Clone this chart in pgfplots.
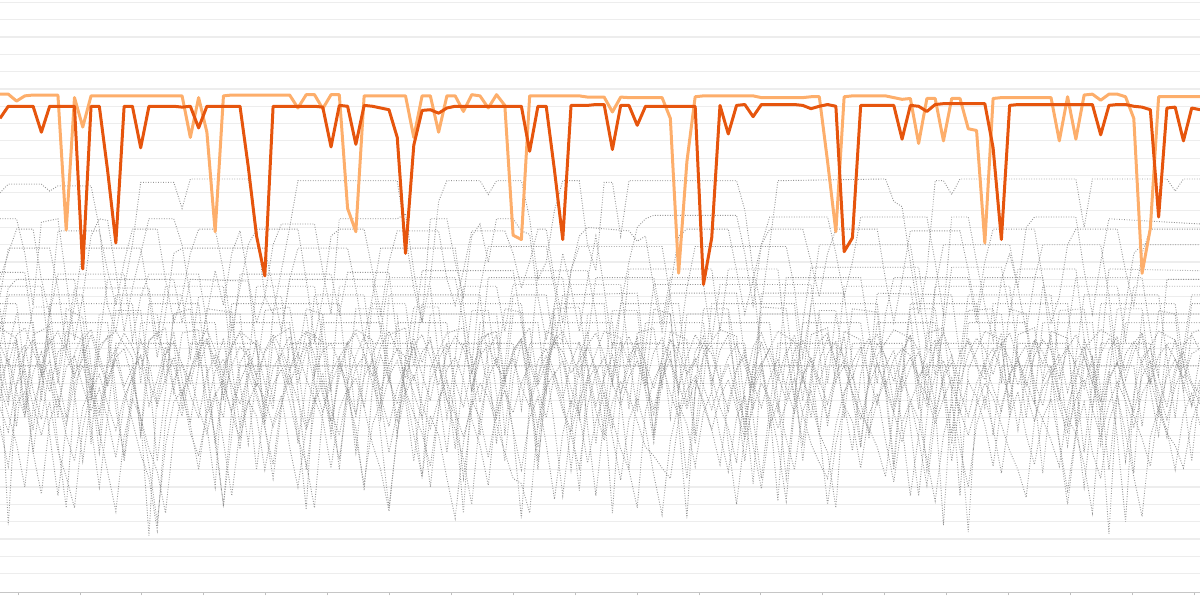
\documentclass[border=0pt]{standalone}
\usepackage{pgfplots}
\usepackage{pgfplotstable}
\pgfplotsset{compat=1.18}
\definecolor{darkor}{HTML}{E6550D}
\definecolor{lightor}{HTML}{FDAE6B}
\definecolor{graycol}{HTML}{959595}
\definecolor{gridcol}{HTML}{EDEDED}
\pgfplotstableread{
i z1 z2 z3 z4 z5 z6
0 12.5 11.5 10.8 9.6 11.2 13.2
1 2.8 9.8 9.2 8.2 12.4 12.1
2 11.0 12.4 7.5 10.9 10.5 13.8
3 12.8 13.2 5.0 11.8 9.1 14.2
4 13.5 10.6 9.6 9.7 11.6 12.9
5 12.0 8.9 11.4 8.0 12.8 11.6
6 10.5 11.8 12.3 9.9 11.0 13.3
7 12.8 7.5 10.1 7.1 9.6 14.0
8 13.2 3.8 8.6 5.6 11.9 12.7
9 11.5 10.2 11.0 3.8 12.6 11.3
10 12.4 12.9 12.0 8.4 10.8 13.5
11 13.8 11.3 10.4 10.6 9.4 14.1
12 12.2 9.4 9.1 11.5 10.7 12.6
13 10.8 12.1 11.3 9.8 8.9 11.0
14 12.5 13.0 12.4 8.3 6.7 12.8
15 13.0 10.8 10.6 10.2 9.8 13.9
16 11.2 11.9 8.8 11.3 11.5 13.1
17 9.0 12.6 6.9 9.0 12.6 11.8
18 2.2 9.7 5.5 7.2 11.1 13.4
19 10.5 11.2 2.5 5.9 9.7 14.0
20 12.7 13.1 8.9 3.5 11.3 12.5
21 13.4 12.0 11.2 8.0 12.5 10.6
22 12.1 10.3 12.1 10.4 10.4 9.1
23 11.0 11.7 10.3 11.6 8.6 11.7
24 12.9 12.8 9.0 9.5 6.0 13.3
25 13.6 10.1 11.5 8.1 9.5 14.1
26 12.3 8.0 12.6 10.3 11.7 12.9
27 10.2 3.9 10.8 11.2 12.4 11.5
28 12.0 9.5 9.4 9.2 10.9 13.2
29 13.1 12.2 11.1 7.8 9.8 13.9
30 12.6 13.0 12.2 9.9 11.5 12.4
31 11.4 11.4 10.5 11.0 10.2 10.8
32 12.8 9.6 8.7 10.1 8.4 12.9
33 13.5 11.9 10.9 8.5 6.3 13.8
34 12.0 12.7 11.8 9.7 9.9 13.0
35 10.8 10.9 9.9 11.4 11.8 11.7
36 8.5 12.3 7.8 10.0 12.7 13.4
37 3.7 13.2 6.4 8.3 11.3 14.0
38 11.5 11.0 3.8 9.8 10.0 12.6
39 12.9 9.3 9.3 11.1 11.6 10.3
40 13.3 11.6 11.0 9.4 8.8 8.8
41 12.2 12.5 12.1 8.0 6.6 11.4
42 11.0 10.2 10.6 10.5 10.1 13.2
43 12.6 8.4 9.2 11.3 11.9 13.9
44 13.7 4.8 11.4 9.6 12.6 12.7
45 12.4 10.8 12.3 7.5 11.0 11.4
46 10.6 12.6 10.2 6.0 9.5 13.1
47 12.1 11.2 8.5 3.6 11.4 14.0
48 13.0 9.8 10.7 8.2 12.3 12.9
49 12.5 12.0 11.9 10.4 10.6 11.3
50 11.2 13.1 10.4 11.5 9.2 13.2
51 12.8 11.5 9.0 9.8 8.1 13.8
52 13.4 10.0 11.2 8.4 6.2 12.5
53 11.9 12.4 12.2 10.1 9.6 10.9
54 10.0 13.3 10.1 11.2 11.8 12.8
55 9.2 11.1 8.3 9.3 12.5 13.7
56 3.5 9.6 6.6 7.9 11.2 13.0
57 10.8 11.8 4.0 9.7 8.9 11.6
58 12.6 12.9 9.1 11.0 7.4 13.3
59 13.2 10.7 11.3 10.2 5.1 13.9
60 12.0 9.0 12.4 8.6 9.8 10.4
61 11.3 11.4 10.5 7.0 11.7 6.5
62 12.9 8.2 9.3 5.5 12.4 11.3
63 13.6 3.2 11.0 5.2 10.8 13.4
64 12.5 9.9 12.1 3.5 9.6 10.2
65 10.9 12.3 10.6 8.7 11.5 7.3
66 12.2 13.0 9.0 10.8 12.6 11.6
67 13.4 11.6 11.5 11.6 11.1 13.5
68 12.8 10.1 12.3 9.6 9.4 14.0
69 11.6 12.2 10.7 8.2 8.0 12.8
70 12.3 13.4 9.2 10.0 6.1 11.4
71 13.1 11.9 11.1 11.3 9.7 13.2
72 11.8 9.7 12.0 9.4 11.6 13.9
73 9.6 11.3 10.3 7.7 12.5 12.6
74 3.5 12.6 8.9 9.9 11.0 11.1
75 10.4 10.4 7.2 11.1 9.7 12.9
76 12.6 12.0 6.0 10.3 11.4 13.7
77 13.3 13.1 3.8 8.8 12.3 12.4
78 12.1 11.2 9.4 7.3 10.6 10.9
79 10.7 9.5 11.2 6.8 9.2 12.8
80 12.4 11.7 12.2 6.1 11.3 13.6
81 13.5 12.8 10.4 5.5 12.4 12.2
82 12.9 8.7 9.1 8.9 10.9 10.7
83 11.5 3.2 11.6 10.6 9.5 12.5
84 12.2 10.6 12.4 11.4 11.2 13.8
85 13.3 12.5 10.8 9.7 10.0 13.0
86 12.7 13.2 9.5 8.3 8.3 11.4
87 11.1 11.0 11.0 10.2 6.3 9.6
88 12.5 9.4 12.1 11.2 9.9 8.4
89 13.2 11.8 10.2 9.5 11.8 6.4
90 12.0 12.9 8.8 7.8 12.6 10.8
91 10.5 10.8 11.3 9.6 11.0 13.1
92 11.8 12.1 12.2 11.0 9.6 13.9
93 9.5 13.0 9.7 10.1 11.3 12.6
94 4.2 11.5 7.4 8.4 12.4 11.2
95 11.0 10.0 4.2 9.8 10.7 12.9
96 12.9 12.4 9.6 11.3 9.3 10.3
97 13.5 11.3 11.4 9.2 11.5 7.5
98 12.3 9.9 12.3 7.5 12.5 11.6
99 11.0 8.1 10.5 6.4 11.2 13.4
100 12.7 7.0 9.0 5.5 9.8 13.9
101 13.4 3.8 11.2 8.6 11.6 12.2
102 12.5 10.3 12.0 10.5 12.3 9.8
103 11.3 12.2 10.4 11.4 10.5 7.1
104 12.8 13.1 8.9 9.8 9.2 11.5
105 13.6 11.4 10.9 8.1 8.4 13.3
106 12.2 9.8 12.1 10.0 7.3 13.8
107 10.8 12.0 10.6 11.2 5.6 12.5
108 12.4 12.9 9.3 9.3 9.5 11.1
109 13.0 10.6 11.4 7.6 11.6 12.8
110 12.6 11.9 10.0 9.9 12.5 13.7
111 11.4 12.8 7.8 11.1 11.0 12.9
112 12.1 10.9 5.1 10.3 9.7 11.4
113 9.8 9.2 9.0 8.7 11.4 13.1
114 2.8 11.5 11.3 10.1 12.3 13.9
115 10.6 12.6 12.2 11.3 10.8 12.6
116 12.8 8.5 10.5 9.4 9.3 11.0
117 13.4 2.4 9.1 8.0 11.1 12.7
118 12.0 10.1 11.0 9.7 10.2 13.6
119 11.2 12.3 12.1 11.0 8.6 13.0
120 12.6 13.0 10.7 10.2 6.2 11.5
121 13.3 11.6 9.4 8.6 9.7 13.2
122 12.4 10.2 11.5 7.1 11.5 13.9
123 10.9 12.4 12.3 6.0 12.4 12.4
124 12.2 13.2 10.4 4.4 11.1 10.8
125 13.5 11.1 8.8 8.8 9.8 12.6
126 12.8 9.7 11.1 10.7 8.9 13.5
127 11.5 11.8 12.0 11.5 7.7 12.9
128 12.3 12.7 10.3 9.6 6.2 11.3
129 13.1 10.5 9.0 8.2 9.6 13.0
130 12.0 12.2 8.1 10.1 11.4 13.8
131 10.7 13.1 6.3 11.2 12.5 12.5
132 12.5 11.4 3.5 9.5 11.0 11.0
133 9.0 9.9 9.2 7.9 9.5 12.7
134 2.3 11.7 11.2 9.8 11.3 13.6
135 10.5 7.9 12.2 11.1 12.2 13.1
136 12.7 3.0 10.6 10.0 10.7 11.7
137 13.4 10.4 9.3 8.5 9.1 13.3
138 12.1 12.5 11.4 10.4 7.8 13.9
139 11.0 13.0 12.3 11.3 6.2 12.2
140 12.6 11.3 10.5 9.4 9.5 10.1
141 13.2 9.6 8.9 8.1 11.4 7.9
142 12.4 11.9 10.8 7.4 12.4 11.5
143 11.3 12.8 12.0 6.1 11.0 13.2
144 12.7 11.0 10.9 8.8 9.7 13.8
145 13.0 10.4 9.8 10.2 11.2 12.9
}\zig
\begin{document}
\begin{tikzpicture}
\begin{axis}[
  width=600pt, height=296.15pt, scale only axis,
  xmin=0, xmax=145, ymin=-1.08, ymax=33.14,
  axis x line*=bottom, axis y line*=left,
  x axis line style={color=gray!45, line width=0.5pt},
  y axis line style={draw=none},
  ytick={0,1,...,33}, yticklabels={}, ytick style={draw=none},
  yticklabel style={inner sep=0pt, outer sep=0pt},
  ymajorgrids, major grid style={color=gridcol, line width=0.6pt},
  xtick={2.18,9.66,17.14,24.62,32.10,39.58,47.06,54.54,62.02,69.50,76.98,84.46,91.94,99.42,106.90,114.38,121.86,129.34,136.82,144.30},
  xticklabels={}, xtick style={color=gray!50, line width=0.4pt},
  tick align=outside, major tick length=1.5pt,
  gl/.style={color=graycol, line width=0.45pt, dash pattern=on 0.45pt off 0.8pt, forget plot},
]
\addplot[gl] table[x=i,y=z1]{\zig};
\addplot[gl] table[x=i,y=z2]{\zig};
\addplot[gl] table[x=i,y=z3]{\zig};
\addplot[gl] table[x=i,y=z4]{\zig};
\addplot[gl] table[x=i,y=z5]{\zig};
\addplot[gl] table[x=i,y=z6]{\zig};
% Z7
\addplot[gl] coordinates {(0,14.2)(2,13.6)(3,9.5)(4,13.8)(6,14.3)(7,11.0)(8,14.0)(10,13.5)(11,7.5)(12,13.2)(14,14.0)(16,12.5)(17,8.0)(18,13.5)(20,14.2)(21,10.5)(22,13.9)(24,14.1)(25,8.5)(26,5.0)(27,12.0)(29,14.0)(31,13.2)(32,9.0)(33,13.6)(35,14.2)(36,11.5)(37,14.0)(39,13.4)(40,7.8)(41,12.5)(43,14.1)(45,13.5)(46,10.0)(47,13.8)(49,14.2)(50,9.5)(51,5.5)(52,11.8)(54,13.9)(56,14.2)(57,10.5)(58,13.6)(60,14.0)(61,8.0)(62,12.9)(64,14.2)(65,11.0)(66,14.0)(68,13.5)(69,9.0)(70,4.8)(71,11.5)(73,14.0)(75,13.6)(76,9.5)(77,13.9)(79,14.2)(80,10.8)(81,14.0)(83,13.5)(84,8.0)(85,12.8)(87,14.1)(89,13.7)(90,9.8)(91,5.2)(92,12.0)(94,14.0)(96,13.4)(97,10.0)(98,13.8)(100,14.2)(101,11.0)(102,14.0)(104,13.5)(105,7.8)(106,12.6)(108,14.1)(110,13.6)(111,9.5)(112,13.9)(114,14.2)(115,10.5)(116,4.5)(117,11.8)(119,14.0)(121,13.5)(122,9.0)(123,13.8)(125,14.2)(126,11.2)(127,14.0)(129,13.6)(130,8.5)(131,13.0)(133,14.1)(135,13.5)(136,9.8)(137,5.8)(138,12.2)(140,14.0)(142,13.5)(143,10.5)(144,13.9)(145,14.1)};
% Z8
\addplot[gl] coordinates {(0,8.5)(1,6.2)(2,9.8)(3,10.5)(4,7.0)(5,4.6)(6,8.8)(7,10.2)(8,8.0)(9,6.5)(10,9.6)(11,10.8)(12,8.2)(13,5.9)(14,3.6)(15,7.9)(16,10.1)(17,9.0)(18,6.3)(19,3.0)(20,7.4)(21,9.9)(22,10.6)(23,8.1)(24,6.8)(25,9.2)(26,10.4)(27,7.6)(28,4.5)(29,8.3)(30,10.0)(31,9.1)(32,6.0)(33,8.7)(34,10.3)(35,7.3)(36,5.0)(37,8.4)(38,10.1)(39,8.9)(40,6.1)(41,9.5)(42,10.7)(43,7.8)(44,5.2)(45,8.6)(46,9.9)(47,7.0)(48,9.3)(49,10.5)(50,8.0)(51,5.6)(52,9.1)(53,8.0)(54,5.5)(55,3.2)(56,7.6)(57,10.0)(58,9.0)(59,6.7)(60,9.4)(61,10.6)(62,8.3)(63,6.0)(64,9.0)(65,10.2)(66,7.5)(67,4.3)(68,8.1)(69,10.0)(70,9.2)(71,6.4)(72,8.8)(73,10.4)(74,7.9)(75,5.4)(76,8.9)(77,10.1)(78,8.4)(79,5.7)(80,3.4)(81,7.7)(82,9.8)(83,8.6)(84,6.2)(85,9.3)(86,10.5)(87,8.0)(88,5.9)(89,9.0)(90,10.3)(91,7.4)(92,4.9)(93,8.5)(94,9.9)(95,7.8)(96,6.0)(97,9.4)(98,10.6)(99,8.2)(100,4.0)(101,7.5)(102,9.7)(103,8.8)(104,6.1)(105,9.2)(106,10.4)(107,7.7)(108,5.3)(109,8.7)(110,10.0)(111,8.9)(112,6.6)(113,4.2)(114,8.0)(115,9.8)(116,7.2)(117,5.0)(118,8.6)(119,10.2)(120,8.4)(121,5.8)(122,9.1)(123,10.5)(124,8.0)(125,6.3)(126,9.0)(127,10.1)(128,7.6)(129,4.8)(130,8.2)(131,9.9)(132,7.0)(133,5.5)(134,8.8)(135,10.3)(136,8.1)(137,5.6)(138,3.3)(139,7.9)(140,9.6)(141,8.3)(142,6.0)(143,9.2)(144,10.4)(145,8.6)};
% Z9
\addplot[gl] coordinates {(0,15.3)(1,12.0)(2,8.5)(3,12.8)(4,15.4)(6,15.4)(7,11.5)(8,15.3)(10,14.8)(11,11.0)(12,7.0)(13,11.8)(14,15.2)(17,15.2)(18,11.5)(19,6.5)(20,10.5)(21,15.0)(23,15.3)(24,12.0)(25,15.3)(28,15.1)(29,11.0)(30,7.5)(31,11.5)(32,15.2)(35,15.4)(36,12.5)(37,15.3)(39,15.0)(40,10.5)(41,6.0)(42,11.0)(43,15.3)(46,15.3)(47,12.0)(48,8.0)(49,12.5)(50,15.4)(53,15.4)(54,11.0)(55,7.2)(56,11.5)(57,15.2)(59,15.2)(60,12.0)(61,15.3)(63,15.1)(64,10.5)(65,6.0)(66,11.5)(67,15.3)(70,15.4)(71,12.0)(72,7.5)(73,11.5)(74,15.2)(77,15.2)(78,11.0)(79,15.3)(81,15.0)(82,10.0)(83,5.5)(84,10.5)(85,15.3)(88,15.3)(89,12.5)(90,8.0)(91,12.0)(92,15.4)(95,15.3)(96,11.5)(97,6.5)(98,11.0)(99,15.2)(101,15.2)(102,12.0)(103,15.3)(106,15.1)(107,10.5)(108,6.0)(109,11.0)(110,15.3)(113,15.3)(114,11.5)(115,7.5)(116,12.0)(117,15.2)(120,15.3)(121,11.0)(122,15.3)(124,15.0)(125,10.5)(126,5.8)(127,10.5)(128,15.2)(131,15.3)(132,12.0)(133,7.5)(134,11.5)(135,15.3)(138,15.3)(139,11.0)(140,15.2)(142,15.0)(143,10.5)(144,6.5)(145,11.0)};
% Z10
\addplot[gl] coordinates {(0,12.8)(1,10.2)(2,13.5)(3,11.0)(4,8.3)(5,12.0)(6,13.6)(7,11.4)(8,9.0)(9,12.7)(10,13.8)(11,10.6)(12,12.9)(13,13.7)(14,9.5)(15,6.8)(16,11.0)(17,13.5)(18,12.2)(19,9.8)(20,12.6)(21,13.9)(22,11.2)(23,8.7)(24,11.9)(25,13.4)(26,12.0)(27,13.6)(28,10.4)(29,7.2)(30,11.3)(31,13.5)(32,12.4)(33,10.0)(34,12.8)(35,13.7)(36,11.0)(37,12.9)(38,13.8)(39,10.7)(40,8.2)(41,11.8)(42,13.4)(43,12.1)(44,9.6)(45,12.7)(46,13.8)(47,11.5)(48,8.9)(49,12.4)(50,13.6)(51,12.2)(52,13.7)(53,10.3)(54,7.0)(55,11.4)(56,13.3)(57,12.5)(58,9.9)(59,12.9)(60,13.8)(61,11.1)(62,12.7)(63,13.5)(64,10.8)(65,8.4)(66,12.0)(67,13.6)(68,12.3)(69,9.7)(70,12.6)(71,13.9)(72,11.3)(73,8.0)(74,11.6)(75,13.4)(76,12.2)(77,13.7)(78,10.5)(79,7.6)(80,11.2)(81,13.5)(82,12.4)(83,9.8)(84,12.8)(85,13.7)(86,11.0)(87,12.9)(88,13.8)(89,10.9)(90,8.5)(91,11.7)(92,13.4)(93,12.0)(94,9.4)(95,12.6)(96,13.8)(97,11.6)(98,9.0)(99,12.3)(100,13.6)(101,12.1)(102,13.7)(103,10.2)(104,7.3)(105,11.4)(106,13.3)(107,12.5)(108,9.8)(109,12.8)(110,13.8)(111,11.1)(112,12.7)(113,13.5)(114,10.6)(115,8.1)(116,11.9)(117,13.6)(118,12.3)(119,9.6)(120,12.5)(121,13.9)(122,11.4)(123,8.3)(124,11.7)(125,13.4)(126,12.1)(127,13.7)(128,10.4)(129,7.4)(130,11.1)(131,13.5)(132,12.4)(133,9.9)(134,12.9)(135,13.7)(136,11.2)(137,12.8)(138,13.8)(139,10.6)(140,8.0)(141,11.9)(142,13.5)(143,12.2)(144,9.7)(145,12.6)};
% P1
\addplot[gl] coordinates {(0,22.0)(1,22.5)(5,22.5)(6,22.1)(7,22.4)(11,22.4)(12,20.0)(13,15.5)(14,14.0)(15,16.5)(16,19.0)(17,22.6)(21,22.6)(22,21.1)(23,22.8)(30,22.8)(31,20.0)(32,16.0)(33,15.0)(34,17.5)(35,20.0)(36,22.7)(48,22.7)(49,19.5)(50,16.5)(51,14.5)(52,17.0)(53,21.5)(54,22.7)(58,22.7)(59,21.9)(60,22.7)(63,22.7)(64,20.5)(65,17.0)(66,18.0)(67,21.0)(68,22.7)(70,22.7)(71,19.0)(72,17.5)(73,22.6)(74,22.6)(75,19.5)(76,22.7)(89,22.7)(90,21.0)(91,17.5)(92,15.5)(93,19.0)(94,22.7)(107,22.8)(108,21.5)(109,21.2)(110,18.0)(111,15.0)(112,17.5)(113,22.7)(114,22.7)(115,21.9)(116,22.8)(130,22.8)(131,20.0)(132,22.8)(141,22.8)(142,22.1)(143,22.8)(145,22.8)};
% P2
\addplot[gl] coordinates {(0,20.5)(2,20.5)(3,18.5)(4,15.5)(5,20.3)(7,20.5)(8,17.0)(9,13.5)(10,16.0)(11,19.5)(12,20.5)(13,20.4)(14,17.5)(15,14.0)(16,16.5)(17,18.5)(18,20.5)(21,20.5)(22,19.0)(23,16.0)(24,12.5)(25,15.0)(26,17.5)(27,15.5)(28,18.5)(29,19.8)(30,17.0)(31,14.5)(32,16.0)(33,19.0)(34,20.2)(38,20.2)(39,17.5)(40,15.0)(41,20.5)(48,20.5)(49,20.8)(50,17.5)(51,14.5)(52,20.5)(54,20.5)(55,18.0)(56,16.0)(57,19.5)(58,20.2)(59,18.0)(60,20.5)(62,20.5)(63,19.8)(64,19.6)(65,16.0)(66,13.5)(67,15.5)(68,18.5)(69,16.5)(70,14.0)(71,17.0)(72,19.5)(73,16.5)(74,13.0)(75,15.5)(76,18.0)(77,20.0)(78,20.5)(79,20.7)(89,20.7)(90,18.5)(91,15.5)(92,19.0)(93,20.6)(100,20.6)(101,18.5)(102,16.0)(103,18.0)(104,20.6)(112,20.6)(113,18.0)(114,15.0)(115,20.6)(117,20.6)(118,18.0)(119,15.5)(120,13.5)(121,17.0)(122,18.5)(123,16.5)(124,20.0)(125,20.6)(130,20.6)(131,17.5)(132,15.0)(133,18.0)(134,20.5)(145,20.2)};
% P3
\addplot[gl] coordinates {(0,17.0)(1,18.5)(2,19.9)(4,19.9)(5,17.0)(6,15.0)(7,19.8)(12,19.8)(13,17.5)(14,15.5)(15,18.0)(16,19.9)(19,19.9)(20,17.0)(21,14.5)(22,16.0)(23,18.5)(24,19.9)(26,19.9)(27,17.5)(28,14.0)(29,16.5)(30,19.0)(31,19.9)(36,19.9)(37,17.0)(38,13.5)(39,16.0)(40,19.5)(41,19.9)(44,19.9)(45,17.5)(46,15.0)(47,18.0)(48,19.8)(53,19.8)(54,17.0)(55,15.5)(56,17.5)(57,19.8)(61,19.8)(62,18.5)(63,16.5)(64,18.0)(65,19.9)(66,19.9)(67,17.0)(68,14.5)(69,17.5)(70,19.5)(71,20.0)(76,19.8)(77,19.2)(78,19.5)(79,16.5)(80,14.0)(81,16.5)(82,19.5)(83,19.9)(88,19.9)(89,17.5)(90,15.0)(91,17.0)(92,19.0)(93,19.9)(97,19.9)(98,18.0)(99,16.0)(100,18.5)(101,19.9)(106,19.9)(107,17.0)(108,14.5)(109,17.0)(110,19.8)(116,19.8)(117,17.5)(118,15.0)(119,18.0)(120,19.9)(125,19.9)(126,17.0)(127,14.5)(128,16.0)(129,19.0)(130,19.9)(135,19.9)(136,17.5)(137,15.5)(138,18.5)(139,19.9)(145,19.9)};
% P4
\addplot[gl] coordinates {(0,16.0)(1,18.8)(6,18.8)(7,16.5)(8,13.0)(9,15.5)(10,18.8)(17,18.8)(18,16.0)(19,12.5)(20,15.0)(21,18.5)(22,18.8)(32,18.8)(33,16.5)(34,14.0)(35,17.0)(36,18.8)(42,18.8)(43,16.5)(44,13.5)(45,16.0)(46,18.8)(55,18.8)(56,15.5)(57,12.0)(58,16.5)(59,18.9)(66,18.9)(67,16.5)(68,13.5)(69,17.5)(70,18.9)(80,18.9)(81,16.0)(82,13.0)(83,16.5)(84,18.9)(95,18.9)(96,16.5)(97,12.5)(98,15.5)(99,19.0)(110,19.0)(111,16.0)(112,13.0)(113,16.5)(114,19.0)(122,19.0)(123,16.5)(124,14.0)(125,17.0)(126,19.0)(133,19.0)(134,16.0)(135,12.0)(136,15.5)(137,18.5)(138,19.0)(145,19.0)};
% P5
\addplot[gl] coordinates {(0,17.4)(3,17.4)(4,14.0)(5,11.5)(6,15.0)(7,17.3)(15,17.3)(16,13.5)(17,16.0)(18,17.3)(24,17.3)(25,14.5)(26,10.5)(27,9.0)(28,13.0)(29,17.3)(40,17.3)(41,15.0)(42,17.4)(47,17.4)(48,13.5)(49,10.5)(50,14.0)(51,17.5)(62,17.5)(63,14.5)(64,12.0)(65,17.5)(71,17.5)(72,15.0)(73,11.0)(74,8.5)(75,12.5)(76,17.6)(86,17.6)(87,14.0)(88,17.6)(94,17.6)(95,13.0)(96,10.0)(97,14.5)(98,17.7)(111,17.7)(112,14.5)(113,11.5)(114,14.0)(115,17.7)(121,17.7)(122,15.0)(123,17.6)(130,17.6)(131,13.5)(132,9.5)(133,12.5)(134,17.6)(145,17.5)};
% P6
\addplot[gl] coordinates {(0,14.0)(1,16.5)(2,17.0)(9,17.0)(10,13.5)(11,10.0)(12,13.5)(13,17.0)(21,17.0)(22,14.5)(23,17.0)(30,16.9)(31,13.0)(32,11.0)(33,9.5)(34,14.0)(35,17.0)(45,17.0)(46,14.0)(47,17.1)(55,17.1)(56,14.5)(57,10.5)(58,12.5)(59,17.1)(68,17.1)(69,13.0)(70,9.0)(71,13.5)(72,17.1)(79,17.1)(80,14.5)(81,17.1)(91,17.1)(92,12.5)(93,8.5)(94,11.5)(95,17.1)(104,17.1)(105,14.0)(106,11.0)(107,15.0)(108,17.1)(117,17.1)(118,14.5)(119,17.1)(126,17.1)(127,13.0)(128,10.0)(129,14.0)(130,17.1)(138,17.1)(139,14.0)(140,11.5)(141,17.0)(145,17.0)};
% P7
\addplot[gl] coordinates {(0,16.6)(5,16.6)(6,12.5)(7,9.0)(8,13.0)(9,16.5)(18,16.5)(19,13.5)(20,16.6)(27,16.6)(28,12.0)(29,8.5)(30,12.0)(31,16.6)(38,16.6)(39,13.5)(40,10.5)(41,16.6)(52,16.6)(53,12.5)(54,9.0)(55,12.5)(56,16.6)(60,16.6)(61,14.0)(62,16.7)(75,16.7)(76,12.5)(77,9.5)(78,13.0)(79,16.7)(85,16.7)(86,13.5)(87,16.7)(98,16.7)(99,13.0)(100,8.5)(101,12.0)(102,16.6)(110,16.6)(111,13.5)(112,10.0)(113,16.6)(122,16.6)(123,12.5)(124,9.0)(125,13.0)(126,16.6)(135,16.6)(136,13.5)(137,16.6)(145,16.6)};
% P8
\addplot[gl] coordinates {(0,13.0)(1,16.1)(10,16.1)(11,12.0)(12,8.0)(13,12.5)(14,16.1)(22,16.1)(23,12.5)(24,16.0)(34,16.0)(35,12.0)(36,7.5)(37,11.0)(38,16.1)(44,16.1)(45,12.5)(46,9.0)(47,16.1)(58,16.1)(59,12.0)(60,7.5)(61,12.0)(62,16.1)(66,16.1)(67,13.0)(68,16.1)(77,16.2)(78,12.0)(79,8.0)(80,12.5)(81,16.2)(89,16.2)(90,12.5)(91,9.5)(92,16.2)(102,16.2)(103,12.0)(104,7.5)(105,11.5)(106,16.2)(115,16.1)(116,12.5)(117,16.1)(127,16.1)(128,12.0)(129,8.5)(130,12.5)(131,16.1)(140,16.1)(141,12.5)(142,9.0)(143,13.0)(144,16.1)(145,16.1)};
% P9
\addplot[gl] coordinates {(0,15.6)(2,15.6)(3,11.5)(4,7.0)(5,10.5)(6,15.6)(16,15.6)(17,11.0)(18,15.6)(24,15.6)(25,11.5)(26,7.5)(27,11.0)(28,15.6)(41,15.6)(42,11.0)(43,7.0)(44,11.5)(45,15.6)(49,15.6)(50,12.0)(51,15.6)(63,15.6)(64,11.5)(65,6.5)(66,10.5)(67,15.6)(73,15.6)(74,11.0)(75,15.6)(82,15.6)(83,11.5)(84,7.5)(85,11.0)(86,15.6)(96,15.6)(97,11.0)(98,15.6)(106,15.6)(107,11.0)(108,6.5)(109,11.5)(110,15.6)(118,15.6)(119,11.5)(120,15.6)(129,15.6)(130,11.0)(131,7.0)(132,11.0)(133,15.6)(142,15.6)(143,12.0)(144,15.6)(145,15.6)};
% P10
\addplot[gl] coordinates {(0,10.0)(1,13.0)(2,15.0)(8,15.0)(9,10.5)(10,6.5)(11,10.0)(12,15.0)(19,15.0)(20,11.0)(21,15.0)(29,15.0)(30,10.5)(31,6.0)(32,10.0)(33,15.0)(37,15.0)(38,11.5)(39,15.0)(48,15.0)(49,10.0)(50,6.5)(51,10.5)(52,15.0)(60,15.0)(61,11.0)(62,15.0)(67,15.0)(68,10.5)(69,6.0)(70,10.0)(71,15.0)(81,15.0)(82,10.5)(83,15.0)(88,15.0)(89,10.0)(90,6.5)(91,10.5)(92,15.0)(99,15.0)(100,11.0)(101,15.0)(110,15.0)(111,10.5)(112,6.0)(113,10.0)(114,15.0)(121,15.0)(122,11.0)(123,15.0)(134,15.0)(135,10.5)(136,6.5)(137,10.0)(138,15.0)(145,15.0)};
% P11
\addplot[gl] coordinates {(0,14.5)(4,14.5)(5,10.0)(6,14.5)(13,14.5)(14,10.5)(15,6.5)(16,10.0)(17,14.5)(26,14.5)(27,10.0)(28,14.5)(35,14.5)(36,10.5)(37,6.0)(38,9.5)(39,14.5)(46,14.5)(47,11.0)(48,14.5)(54,14.5)(55,10.0)(56,5.5)(57,9.5)(58,14.5)(65,14.5)(66,10.5)(67,14.5)(74,14.5)(75,10.0)(76,6.0)(77,10.5)(78,14.5)(85,14.5)(86,10.5)(87,14.5)(93,14.5)(94,10.0)(95,5.5)(96,10.0)(97,14.5)(104,14.5)(105,11.0)(106,14.5)(113,14.5)(114,10.5)(115,6.5)(116,10.0)(117,14.5)(124,14.5)(125,10.0)(126,14.5)(132,14.5)(133,10.5)(134,6.0)(135,10.5)(136,14.5)(145,14.5)};
% P12
\addplot[gl] coordinates {(0,13.3)(2,13.3)(3,9.0)(4,13.3)(10,13.3)(11,8.5)(12,5.0)(13,9.0)(14,13.3)(21,13.3)(22,9.5)(23,13.3)(31,13.3)(32,8.5)(33,5.5)(34,9.5)(35,13.3)(42,13.3)(43,9.0)(44,13.3)(50,13.3)(51,9.0)(52,5.0)(53,9.5)(54,13.3)(62,13.3)(63,9.5)(64,13.3)(70,13.3)(71,8.5)(72,4.5)(73,9.0)(74,13.3)(80,13.3)(81,9.0)(82,13.3)(90,13.3)(91,9.0)(92,5.5)(93,9.5)(94,13.3)(101,13.3)(102,9.0)(103,13.3)(109,13.3)(110,8.5)(111,4.5)(112,9.0)(113,13.3)(121,13.3)(122,9.5)(123,13.3)(129,13.3)(130,9.0)(131,5.0)(132,9.5)(133,13.3)(139,13.3)(140,9.0)(141,13.3)(145,13.3)};
% P13
\addplot[gl] coordinates {(0,12.0)(5,12.0)(6,8.0)(7,4.5)(8,8.5)(9,12.0)(16,12.0)(17,8.0)(18,12.0)(25,12.0)(26,7.5)(27,4.0)(28,8.0)(29,12.0)(36,12.0)(37,8.5)(38,12.0)(45,12.0)(46,8.0)(47,3.8)(48,8.0)(49,12.0)(57,12.0)(58,8.0)(59,12.0)(66,12.0)(67,8.5)(68,4.5)(69,8.5)(70,12.0)(78,12.0)(79,8.0)(80,12.0)(87,12.0)(88,7.5)(89,4.0)(90,8.0)(91,12.0)(98,12.0)(99,8.0)(100,12.0)(108,12.0)(109,8.5)(110,4.5)(111,8.0)(112,12.0)(119,12.0)(120,8.0)(121,12.0)(127,12.0)(128,7.5)(129,4.0)(130,8.0)(131,12.0)(137,12.0)(138,8.5)(139,12.0)(145,12.0)};
% light orange
\addplot[color=lightor, line width=1.5pt, line join=round] coordinates {(0,27.7)(1,27.7)(2,27.3)(3,27.6)(4,27.65)(5,27.65)(6,27.65)(7,27.65)(8,19.85)(9,27.5)(10,25.8)(11,27.6)(12,27.6)(13,27.6)(14,27.6)(15,27.6)(16,27.6)(17,27.6)(18,27.6)(19,27.6)(20,27.6)(21,27.6)(22,27.6)(23,25.2)(24,27.5)(25,25.5)(26,19.75)(27,27.6)(28,27.65)(29,27.65)(30,27.65)(31,27.65)(32,27.65)(33,27.65)(34,27.65)(35,27.65)(36,26.9)(37,27.67)(38,27.67)(39,26.86)(40,27.67)(41,27.67)(42,21.1)(43,19.75)(44,27.6)(45,27.6)(46,27.6)(47,27.6)(48,27.6)(49,27.6)(50,25.2)(51,27.6)(52,27.6)(53,25.5)(54,27.6)(55,27.6)(56,26.7)(57,27.67)(58,27.6)(59,26.9)(60,27.67)(61,27.05)(62,19.55)(63,19.3)(64,27.6)(65,27.6)(66,27.6)(67,27.6)(68,27.6)(69,27.6)(70,27.6)(71,27.53)(72,27.53)(73,27.53)(74,26.67)(75,27.53)(76,27.5)(77,27.5)(78,27.5)(79,27.5)(80,27.5)(81,26.3)(82,17.36)(83,23.8)(84,27.55)(85,27.6)(86,27.6)(87,27.6)(88,27.6)(89,27.6)(90,27.6)(91,27.6)(92,27.5)(93,27.5)(94,27.5)(95,27.5)(96,27.5)(97,27.5)(98,27.55)(99,27.55)(100,23.8)(101,19.75)(102,27.55)(103,27.6)(104,27.6)(105,27.6)(106,27.6)(107,27.6)(108,27.5)(109,27.4)(110,27.45)(111,24.85)(112,27.45)(113,27.45)(114,25.0)(115,27.45)(116,27.45)(117,25.7)(118,25.6)(119,19.1)(120,27.45)(121,27.5)(122,27.5)(123,27.5)(124,27.5)(125,27.5)(126,27.5)(127,27.5)(128,25.0)(129,27.55)(130,25.1)(131,27.65)(132,27.7)(133,27.35)(134,27.7)(135,27.7)(136,27.55)(137,26.3)(138,17.35)(139,19.95)(140,27.55)(141,27.55)(142,27.55)(143,27.55)(144,27.55)(145,27.55)};
% dark orange
\addplot[color=darkor, line width=1.5pt, line join=round] coordinates {(0,26.3)(1,27.0)(2,27.0)(3,27.0)(4,27.0)(5,25.5)(6,27.0)(7,27.0)(8,27.0)(9,27.0)(10,17.6)(11,27.0)(12,27.0)(13,23.3)(14,19.1)(15,27.0)(16,27.0)(17,24.6)(18,27.0)(19,27.0)(20,27.0)(21,27.0)(22,26.95)(23,27.0)(24,25.75)(25,27.0)(26,27.0)(27,27.0)(28,27.0)(29,27.0)(30,23.5)(31,19.5)(32,17.2)(33,27.0)(34,27.0)(35,27.0)(36,27.0)(37,27.0)(38,27.0)(39,26.95)(40,24.65)(41,27.05)(42,27.0)(43,24.8)(44,27.05)(45,27.0)(46,26.9)(47,26.8)(48,25.2)(49,18.5)(50,24.75)(51,26.76)(52,26.8)(53,26.6)(54,26.9)(55,27.0)(56,27.0)(57,27.0)(58,27.0)(59,27.0)(60,27.0)(61,27.0)(62,27.0)(63,27.0)(64,24.4)(65,27.0)(66,27.0)(67,23.3)(68,19.3)(69,27.05)(70,27.05)(71,27.05)(72,27.1)(73,27.1)(74,24.5)(75,27.05)(76,27.05)(77,25.9)(78,27.0)(79,27.0)(80,27.0)(81,27.0)(82,27.0)(83,27.0)(84,27.0)(85,16.7)(86,19.4)(87,27.05)(88,25.4)(89,27.05)(90,27.1)(91,26.4)(92,27.1)(93,27.1)(94,27.1)(95,27.1)(96,27.1)(97,27.05)(98,26.86)(99,27.0)(100,27.1)(101,27.0)(102,18.6)(103,19.4)(104,27.05)(105,27.05)(106,27.05)(107,27.05)(108,27.05)(109,25.1)(110,27.05)(111,27.0)(112,26.7)(113,27.1)(114,27.15)(115,27.15)(116,27.15)(117,27.15)(118,27.15)(119,27.15)(120,24.6)(121,19.3)(122,27.05)(123,27.1)(124,27.1)(125,27.1)(126,27.1)(127,27.1)(128,27.1)(129,27.1)(130,27.1)(131,27.1)(132,27.1)(133,25.35)(134,27.05)(135,27.1)(136,27.1)(137,27.0)(138,26.95)(139,26.8)(140,20.6)(141,26.9)(142,26.95)(143,25.0)(144,26.9)(145,26.8)};
\end{axis}
\pgfresetboundingbox
\useasboundingbox (current axis.south west) ++(0,-8.35pt) rectangle (current axis.north east);
\end{tikzpicture}
\end{document}
